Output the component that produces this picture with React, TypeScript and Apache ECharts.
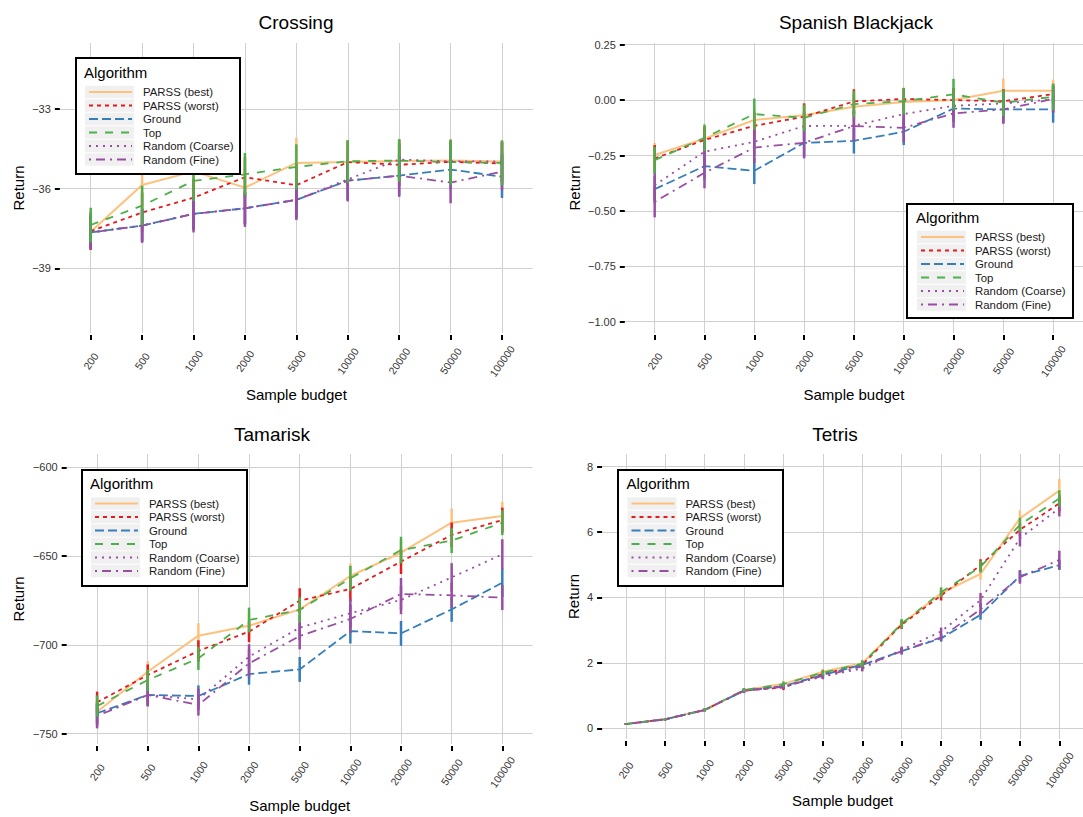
import React, { useEffect, useRef } from 'react';
import * as echarts from 'echarts';

const ALGORITHMS = ['PARSS (best)', 'PARSS (worst)', 'Ground', 'Top', 'Random (Coarse)', 'Random (Fine)'];

const BUDGETS_SHORT = ['200', '500', '1000', '2000', '5000', '10000', '20000', '50000', '100000'];
const BUDGETS_TETRIS = ['200', '500', '1000', '2000', '5000', '10000', '20000', '50000', '100000', '200000', '500000', '1000000'];

// ---- Crossing ----
const crossingBest = [-37.62, -35.86, -35.35, -35.96, -35.03, -35.0, -34.96, -34.94, -34.98];
const crossingWorst = [-37.6, -36.9, -36.34, -35.57, -35.87, -35.0, -35.1, -34.99, -35.05];
const crossingGround = [-37.65, -37.39, -36.95, -36.74, -36.42, -35.7, -35.51, -35.28, -35.55];
const crossingTop = [-37.37, -36.64, -35.71, -35.46, -35.18, -34.97, -34.94, -35.0, -35.03];
const crossingCoarse = [-37.65, -37.39, -36.95, -36.74, -36.42, -35.65, -34.9, -34.97, -34.98];
const crossingFine = [-37.65, -37.39, -36.95, -36.74, -36.42, -35.7, -35.51, -35.77, -35.36];
const crossingBestErr = [0.7, 0.75, 0.7, 0.75, 0.95, 0.8, 0.8, 0.8, 0.8];
const crossingWorstErr = [0.7, 0.75, 0.7, 0.75, 0.8, 0.8, 0.8, 0.8, 0.8];
const crossingGroundErr = [0.6, 0.6, 0.6, 0.6, 0.7, 0.75, 0.75, 0.75, 0.8];
const crossingTopErr = [0.65, 0.75, 0.75, 0.8, 0.85, 0.8, 0.8, 0.85, 0.85];
const crossingCoarseErr = [0.6, 0.6, 0.6, 0.6, 0.7, 0.75, 0.75, 0.75, 0.75];
const crossingFineErr = [0.65, 0.65, 0.7, 0.7, 0.76, 0.78, 0.8, 0.78, 0.7];
const crossingTicks = [-39, -36, -33];

// ---- Spanish Blackjack ----
const blackjackBest = [-0.248, -0.174, -0.09, -0.068, -0.03, -0.009, 0.0, 0.042, 0.042];
const blackjackWorst = [-0.263, -0.18, -0.116, -0.075, -0.006, 0.005, 0.0, -0.005, 0.027];
const blackjackGround = [-0.402, -0.298, -0.319, -0.193, -0.184, -0.143, -0.038, -0.042, -0.042];
const blackjackTop = [-0.271, -0.17, -0.063, -0.08, -0.018, -0.005, 0.026, -0.012, 0.015];
const blackjackCoarse = [-0.384, -0.233, -0.188, -0.117, -0.116, -0.063, -0.026, -0.015, 0.003];
const blackjackFine = [-0.459, -0.328, -0.214, -0.193, -0.117, -0.125, -0.06, -0.042, 0.005];
const blackjackBestErr = [0.055, 0.055, 0.055, 0.055, 0.055, 0.055, 0.055, 0.055, 0.05];
const blackjackWorstErr = [0.06, 0.06, 0.06, 0.06, 0.055, 0.05, 0.055, 0.055, 0.045];
const blackjackGroundErr = [0.06, 0.06, 0.06, 0.06, 0.057, 0.06, 0.06, 0.06, 0.06];
const blackjackTopErr = [0.06, 0.06, 0.07, 0.06, 0.06, 0.06, 0.07, 0.06, 0.06];
const blackjackCoarseErr = [0.065, 0.065, 0.065, 0.065, 0.065, 0.06, 0.06, 0.06, 0.06];
const blackjackFineErr = [0.07, 0.07, 0.07, 0.07, 0.07, 0.065, 0.065, 0.065, 0.06];
const blackjackTicks = [-1, -0.75, -0.5, -0.25, 0, 0.25];

// ---- Tamarisk ----
const tamariskBest = [-737.6, -715.1, -694.8, -689.2, -680.0, -661.2, -648.1, -631.2, -627.4];
const tamariskWorst = [-732.3, -717.0, -703.4, -692.5, -675.1, -668.5, -653.1, -638.1, -629.7];
const tamariskGround = [-738.5, -728.2, -728.8, -716.4, -713.8, -692.2, -693.5, -680.0, -665.0];
const tamariskTop = [-734.4, -719.8, -707.6, -686.0, -680.3, -662.5, -646.6, -641.3, -631.2];
const tamariskCoarse = [-739.5, -728.2, -730.7, -706.6, -690.3, -682.2, -674.7, -662.0, -649.0];
const tamariskFine = [-740.0, -728.2, -733.8, -710.4, -695.0, -685.4, -671.3, -672.1, -673.4];
const tamariskBestErr = [6, 6, 7, 7, 7, 7, 7, 8, 8];
const tamariskWorstErr = [6, 6, 6, 6, 7, 7, 7, 7, 7];
const tamariskGroundErr = [6, 6, 6, 6, 7, 7, 7, 7, 8];
const tamariskTopErr = [6, 6, 6.5, 7, 7, 7, 7.5, 7, 7];
const tamariskCoarseErr = [6, 6, 6, 7, 7, 8, 8, 8, 8.5];
const tamariskFineErr = [7, 6.5, 6, 8, 7.5, 8, 9, 7, 7];
const tamariskTicks = [-750, -700, -650, -600];

// ---- Tetris ----
const tetrisBest = [0.13, 0.275, 0.56, 1.17, 1.36, 1.73, 1.99, 3.19, 4.13, 4.72, 6.42, 7.27];
const tetrisWorst = [0.13, 0.275, 0.56, 1.15, 1.25, 1.66, 1.94, 3.17, 4.06, 4.99, 6.07, 6.88];
const tetrisGround = [0.13, 0.275, 0.56, 1.15, 1.29, 1.63, 1.94, 2.36, 2.75, 3.47, 4.66, 4.99];
const tetrisTop = [0.13, 0.275, 0.56, 1.17, 1.35, 1.7, 1.98, 3.2, 4.16, 4.94, 6.22, 7.03];
const tetrisCoarse = [0.13, 0.275, 0.56, 1.15, 1.29, 1.58, 1.83, 2.4, 2.96, 3.92, 5.81, 6.73];
const tetrisFine = [0.13, 0.275, 0.56, 1.15, 1.27, 1.6, 1.89, 2.36, 2.78, 3.64, 4.62, 5.15];
const tetrisBestErr = [0.02, 0.03, 0.04, 0.06, 0.08, 0.09, 0.1, 0.13, 0.15, 0.18, 0.25, 0.35];
const tetrisWorstErr = [0.02, 0.03, 0.04, 0.06, 0.08, 0.09, 0.1, 0.13, 0.15, 0.18, 0.2, 0.25];
const tetrisGroundErr = [0.02, 0.03, 0.04, 0.06, 0.07, 0.08, 0.09, 0.1, 0.1, 0.15, 0.18, 0.15];
const tetrisTopErr = [0.02, 0.03, 0.04, 0.06, 0.08, 0.09, 0.1, 0.14, 0.15, 0.18, 0.22, 0.25];
const tetrisCoarseErr = [0.02, 0.03, 0.04, 0.06, 0.07, 0.08, 0.09, 0.1, 0.12, 0.22, 0.25, 0.25];
const tetrisFineErr = [0.02, 0.03, 0.04, 0.06, 0.07, 0.08, 0.09, 0.1, 0.1, 0.18, 0.2, 0.28];
const tetrisTicks = [0, 2, 4, 6, 8];

// ---- styling ----
const FONT = "'Liberation Sans', Arial, Helvetica, sans-serif";
const COLORS = ['#FDC17D', '#E41A1C', '#377EB8', '#4DAF4A', '#984EA3', '#984EA3'];
const DASHES: any[] = ['solid', [4, 4], [9, 4], [8, 8], [2, 5], [2, 5, 9, 5]];
const WIDTHS = [2, 1.8, 1.8, 1.8, 1.8, 1.8];
const ERR_ORDER = [0, 1, 2, 4, 5, 3];
const GRID_COLOR = '#d0d0d0';
const LABEL_COLOR = '#333333';

const panels = [
  {
    title: 'Crossing', titleX: 296, titleTop: 13,
    grid: { left: 59.85, top: 43, width: 473, height: 290 }, xLabelMargin: 26,
    labels: BUDGETS_SHORT, yMin: -41.437, yMax: -30.514, yTicks: crossingTicks, decimals: 0, yNameGap: 34,
    means: [crossingBest, crossingWorst, crossingGround, crossingTop, crossingCoarse, crossingFine],
    errs: [crossingBestErr, crossingWorstErr, crossingGroundErr, crossingTopErr, crossingCoarseErr, crossingFineErr],
    box: { x: 76, y: 58, w: 164, h: 116 }, keyLeft: 85, titleY: 72, firstRow: 92,
  },
  {
    title: 'Spanish Blackjack', titleX: 856, titleTop: 13,
    grid: { left: 624.8, top: 43, width: 463, height: 290 }, xLabelMargin: 26,
    labels: BUDGETS_SHORT, yMin: -1.051, yMax: 0.2577, yTicks: blackjackTicks, decimals: 2, yNameGap: 43,
    means: [blackjackBest, blackjackWorst, blackjackGround, blackjackTop, blackjackCoarse, blackjackFine],
    errs: [blackjackBestErr, blackjackWorstErr, blackjackGroundErr, blackjackTopErr, blackjackCoarseErr, blackjackFineErr],
    box: { x: 907, y: 204, w: 166, h: 114 }, keyLeft: 917, titleY: 217, firstRow: 237,
  },
  {
    title: 'Tamarisk', titleX: 272, titleTop: 425,
    grid: { left: 66.7, top: 454, width: 466, height: 290 }, xLabelMargin: 26,
    labels: BUDGETS_SHORT, yMin: -755.8, yMax: -592.51, yTicks: tamariskTicks, decimals: 0, yNameGap: 41,
    means: [tamariskBest, tamariskWorst, tamariskGround, tamariskTop, tamariskCoarse, tamariskFine],
    errs: [tamariskBestErr, tamariskWorstErr, tamariskGroundErr, tamariskTopErr, tamariskCoarseErr, tamariskFineErr],
    box: { x: 82, y: 470, w: 165, h: 116 }, keyLeft: 91, titleY: 483.5, firstRow: 503.5,
  },
  {
    title: 'Tetris', titleX: 835, titleTop: 425,
    grid: { left: 602.1, top: 454, width: 486.4, height: 285 }, xLabelMargin: 29,
    labels: BUDGETS_TETRIS, yMin: -0.327, yMax: 8.388, yTicks: tetrisTicks, decimals: 0, yNameGap: 21,
    means: [tetrisBest, tetrisWorst, tetrisGround, tetrisTop, tetrisCoarse, tetrisFine],
    errs: [tetrisBestErr, tetrisWorstErr, tetrisGroundErr, tetrisTopErr, tetrisCoarseErr, tetrisFineErr],
    box: { x: 618, y: 470, w: 165, h: 116 }, keyLeft: 627.5, titleY: 483.5, firstRow: 503.5,
  },
];

function fmtTick(v: number, decimals: number): string {
  const s = (Math.abs(v) < 1e-9 ? 0 : v).toFixed(decimals);
  return s.replace('-', '\u2212');
}

function buildOption() {
  const grid: any[] = [];
  const xAxis: any[] = [];
  const yAxis: any[] = [];
  const series: any[] = [];
  const title: any[] = [];
  const legend: any[] = [];
  const graphic: any[] = [];

  panels.forEach((p, i) => {
    grid.push({ ...p.grid, containLabel: false });
    const idx = p.labels.map((_, k) => k);
    xAxis.push({
      type: 'value', gridIndex: i, min: -0.6, max: p.labels.length - 1 + 0.6,
      position: 'bottom',
      name: 'Sample budget', nameLocation: 'middle', nameGap: 52,
      nameTextStyle: { fontSize: 15, color: '#000', fontFamily: FONT },
      offset: 2,
      axisLine: { show: false, onZero: false },
      axisTick: { show: true, length: 5, lineStyle: { color: '#000', width: 2 }, customValues: idx },
      axisLabel: {
        show: true, rotate: 55, margin: p.xLabelMargin, fontSize: 10.5, color: LABEL_COLOR, fontFamily: FONT,
        align: 'center', verticalAlign: 'middle',
        customValues: idx, formatter: (v: number) => p.labels[Math.round(v)],
      },
      splitLine: { show: true, lineStyle: { color: GRID_COLOR, width: 1 } },
    });
    yAxis.push({
      type: 'value', gridIndex: i, min: p.yMin, max: p.yMax,
      position: 'left',
      name: 'Return', nameLocation: 'middle', nameGap: p.yNameGap,
      nameTextStyle: { fontSize: 15, color: '#000', fontFamily: FONT },
      axisLine: { show: false, onZero: false },
      axisTick: { show: true, length: 5, lineStyle: { color: '#000', width: 2 }, customValues: p.yTicks },
      axisLabel: {
        show: true, margin: 9, fontSize: 11, color: LABEL_COLOR, fontFamily: FONT,
        customValues: p.yTicks, formatter: (v: number) => fmtTick(v, p.decimals),
      },
      splitLine: { show: true, lineStyle: { color: GRID_COLOR, width: 1 } },
    });

    ALGORITHMS.forEach((name, a) => {
      series.push({
        type: 'line', name, xAxisIndex: i, yAxisIndex: i,
        data: p.means[a].map((v, k) => [k, v]),
        symbol: 'none', color: COLORS[a],
        lineStyle: { color: COLORS[a], width: WIDTHS[a], type: DASHES[a] },
        z: 2, silent: true,
      });
    });
    ERR_ORDER.forEach((a) => {
      const color = COLORS[a];
      series.push({
        type: 'custom', name: ALGORITHMS[a] + ' error', xAxisIndex: i, yAxisIndex: i,
        data: p.means[a].map((v, k) => [k, v - p.errs[a][k], v + p.errs[a][k]]),
        encode: { x: 0, y: [1, 2] },
        z: 3, silent: true,
        renderItem: (params: any, api: any) => {
          const x = api.value(0);
          const p1 = api.coord([x, api.value(1)]);
          const p2 = api.coord([x, api.value(2)]);
          return {
            type: 'line',
            shape: { x1: p1[0], y1: p1[1], x2: p2[0], y2: p2[1] },
            style: { stroke: color, lineWidth: 2.5 },
          };
        },
      });
    });

    title.push({
      text: p.title, left: p.titleX, top: p.titleTop, textAlign: 'center', padding: 0,
      textStyle: { fontSize: 19, fontWeight: 'normal', color: '#000', fontFamily: FONT },
    });

    // legend box
    graphic.push({
      type: 'rect', z: 5,
      shape: { x: p.box.x, y: p.box.y, width: p.box.w, height: p.box.h },
      style: { fill: '#ffffff', stroke: '#000000', lineWidth: 2 },
    });
    graphic.push({
      type: 'text', z: 6, x: p.keyLeft - 1, y: p.titleY,
      style: { text: 'Algorithm', fontSize: 15, fill: '#000', fontFamily: FONT, verticalAlign: 'middle', align: 'left' },
    });
    ALGORITHMS.forEach((_, a) => {
      graphic.push({
        type: 'rect', z: 6,
        shape: { x: p.keyLeft, y: p.firstRow + a * 13.5 - 6.25, width: 49, height: 12.5 },
        style: { fill: '#f0f0f0' },
      });
    });
    legend.push({
      orient: 'vertical', left: p.keyLeft + 3, top: p.firstRow - 6, padding: 0,
      itemWidth: 43, itemHeight: 12, itemGap: 1.5,
      data: ALGORITHMS, selectedMode: false, z: 10,
      itemStyle: { opacity: 0 },
      lineStyle: { width: 2 },
      textStyle: { fontSize: 11.4, color: '#1a1a1a', fontFamily: FONT, lineHeight: 12, padding: [0, 0, 0, 6] },
    });
  });

  return {
    animation: false,
    backgroundColor: '#ffffff',
    textStyle: { fontFamily: FONT },
    grid, xAxis, yAxis, series, title, legend, graphic,
  };
}

export default function App() {
  const ref = useRef<HTMLDivElement>(null);
  useEffect(() => {
    if (!ref.current) return;
    const chart = echarts.init(ref.current, undefined, { renderer: 'svg' });
    chart.setOption(buildOption() as any);
    return () => chart.dispose();
  }, []);
  return (
    <div
      ref={ref}
      style={{ position: 'absolute', left: 0, top: 0, width: 1083, height: 817, background: '#fff' }}
    />
  );
}
